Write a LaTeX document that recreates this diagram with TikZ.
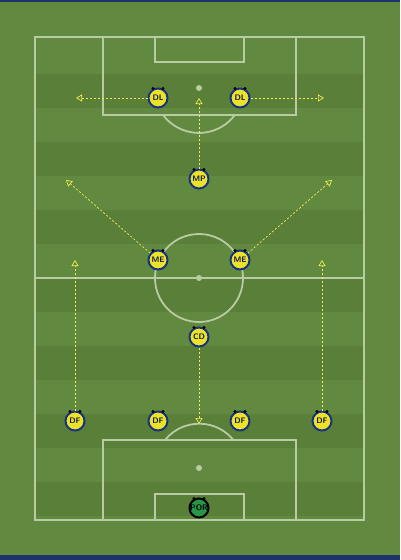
\documentclass[tikz,border=0pt]{standalone}
\usepackage{tikz}
\usetikzlibrary{arrows.meta}

\definecolor{grass}{RGB}{97,137,63}
\definecolor{grassdark}{RGB}{90,127,57}
\definecolor{chalk}{RGB}{184,204,164}
\definecolor{shirt}{RGB}{238,226,40}
\definecolor{rim}{RGB}{24,52,128}
\definecolor{keeper}{RGB}{40,150,72}
\definecolor{run}{RGB}{240,240,80}
\definecolor{frame}{RGB}{30,50,110}

\begin{document}
\begin{tikzpicture}[x=1pt, y=-1pt,
	every node/.style={font=\sffamily\bfseries\fontsize{8}{8}\selectfont},
	line/.style={chalk, line width=1.8pt},
	player/.style={circle, draw=rim, line width=2pt, fill=shirt, inner sep=0pt, minimum size=19pt, text=rim!50!black},
	goalie/.style={player, draw=black, fill=keeper, text=black},
	move/.style={run, dash pattern=on 2pt off 2pt, line width=0.7pt, -{Triangle[open, length=6pt, width=7pt]}}]
	\useasboundingbox (0,0) rectangle (400,560);

	% Grass and stripes
	\fill[grass] (0,0) rectangle (400,560);
	\foreach \y in {74,142,210,278,346,414,482}
		\fill[grassdark] (35,\y) rectangle (364,\y+34);
	\fill[frame] (0,0) rectangle (400,2);
	\fill[frame] (0,555) rectangle (400,560);

	% Pitch lines
	\draw[line] (35,37) rectangle (364,520);
	\draw[line] (35,278) -- (364,278);
	\draw[line] (199,278) circle (44);
	\fill[chalk] (199,278) circle (3);
	% Top end
	\draw[line] (103,37) rectangle (296,115);
	\draw[line] (155,37) rectangle (244,62);
	\fill[chalk] (199,88) circle (3);
	\draw[line] (163,115) arc[start angle=143, end angle=37, radius=45];
	% Bottom end
	\draw[line] (103,440) rectangle (296,520);
	\draw[line] (155,494) rectangle (244,520);
	\fill[chalk] (199,468) circle (3);
	\draw[line] (165,440) arc[start angle=-141, end angle=-39, radius=44];

	% Players
	\node[player] (dl1) at (158,98) {DL};
	\node[player] (dl2) at (240,98) {DL};
	\node[player] (mp) at (199,179) {MP};
	\node[player] (me1) at (158,260) {ME};
	\node[player] (me2) at (240,260) {ME};
	\node[player] (cd) at (199,337) {CD};
	\node[player] (df1) at (75,421) {DF};
	\node[player] (df2) at (158,421) {DF};
	\node[player] (df3) at (240,421) {DF};
	\node[player] (df4) at (322,421) {DF};
	\node[goalie] (por) at (199,508) {POR};
	\foreach \n in {dl1,dl2,mp,me1,me2,cd,df1,df2,df3,df4,por} {
		\fill[black] (\n.north) ++(-5,1) circle (1.6);
		\fill[black] (\n.north) ++(5,1) circle (1.6);
	}

	% Runs
	\coordinate (dl1to) at (76,98);
	\coordinate (dl2to) at (324,98);
	\coordinate (mpto) at (199,98);
	\coordinate (me1to) at (66,180);
	\coordinate (me2to) at (332,180);
	\coordinate (df1to) at (75,260);
	\coordinate (df4to) at (322,260);
	\coordinate (cdto) at (199,424);
	\draw[move] (dl1) -- (dl1to);
	\draw[move] (dl2) -- (dl2to);
	\draw[move] (mp) -- (mpto);
	\draw[move] (me1) -- (me1to);
	\draw[move] (me2) -- (me2to);
	\draw[move] (df1) -- (df1to);
	\draw[move] (df4) -- (df4to);
	\draw[move] (cd) -- (cdto);
\end{tikzpicture}
\end{document}
